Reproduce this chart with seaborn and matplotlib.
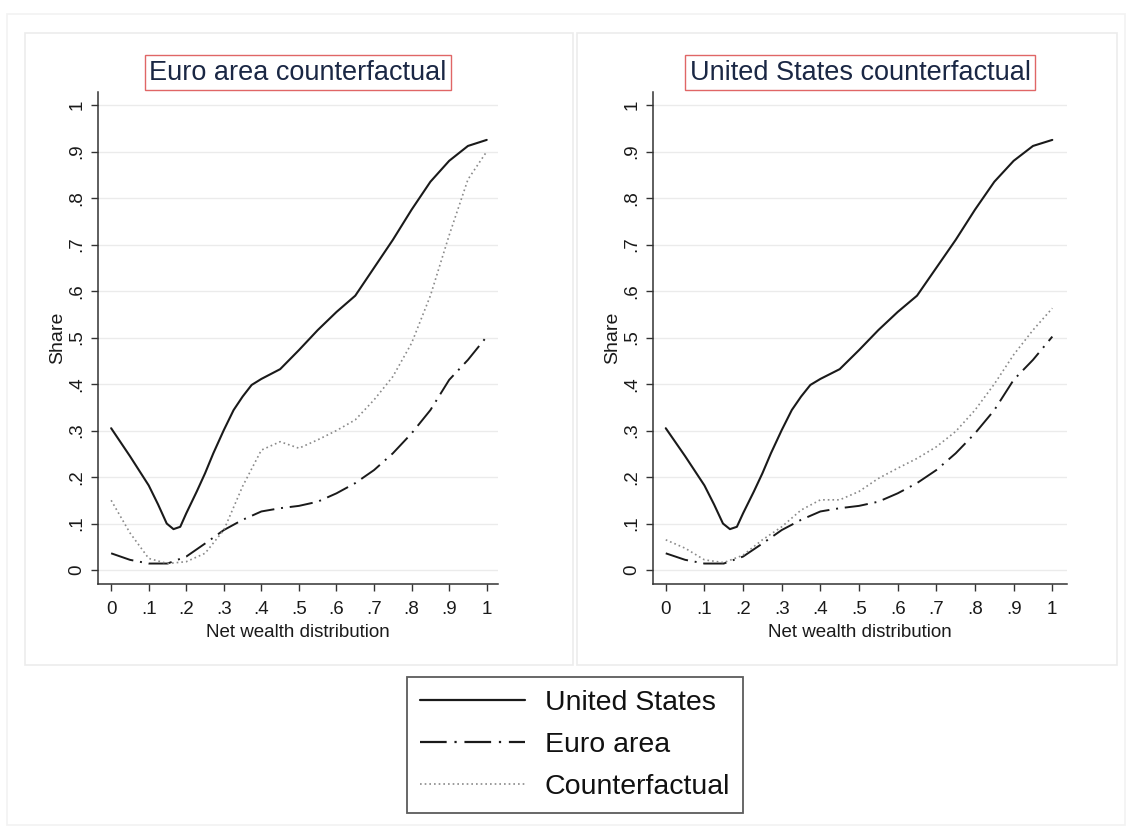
import numpy as np
import pandas as pd
import matplotlib
matplotlib.use("Agg")
import matplotlib.pyplot as plt
import seaborn as sns
from matplotlib.patches import Rectangle
from matplotlib.lines import Line2D

# -------------------------------------------------------------------
# Data
# -------------------------------------------------------------------
us_pos = [0, .05, .1, .125, .148, .166, .184, .2, .228, .25, .272, .3,
          .326, .35, .374, .4, .45, .5, .55, .6, .65, .7, .75, .8,
          .85, .9, .95, 1]
us_share = [.305, .245, .182, .141, .10, .088, .093, .122, .169, .208, .251,
            .301, .344, .373, .398, .411, .432, .473, .516, .555, .59, .65,
            .71, .775, .835, .88, .912, .925]

wealth_pos = [0, .05, .1, .15, .2, .25, .3, .35, .4, .45, .5,
              .55, .6, .65, .7, .75, .8, .85, .9, .95, 1]
ea_share = [.036, .022, .014, .014, .029, .057, .086, .108, .126, .133, .138,
            .147, .165, .187, .215, .251, .294, .344, .409, .452, .502]
cf_euro = [.15, .08, .025, .014, .018, .036, .086, .18, .258, .276, .262,
           .28, .30, .323, .366, .416, .488, .59, .72, .84, .90]
cf_us = [.065, .047, .022, .016, .032, .065, .093, .129, .151, .151, .169,
         .197, .219, .24, .265, .298, .344, .40, .463, .516, .563]

panel_titles = ["Euro area counterfactual", "United States counterfactual"]
series_names = ["United States", "Euro area", "Counterfactual"]
tick_vals = [0, .1, .2, .3, .4, .5, .6, .7, .8, .9, 1]
tick_labels = ["0", ".1", ".2", ".3", ".4", ".5", ".6", ".7", ".8", ".9", "1"]

# -------------------------------------------------------------------
# Style
# -------------------------------------------------------------------
sns.set_style("white")
plt.rcParams['font.family'] = ['Liberation Sans', 'DejaVu Sans']

W, H = 1131, 831
fig = plt.figure(figsize=(W / 100, H / 100), dpi=100)


def px_rect(x0, y0, x1, y1, **kw):
    return Rectangle((x0 / W, 1 - y1 / H), (x1 - x0) / W, (y1 - y0) / H,
                     transform=fig.transFigure, **kw)


# faint Stata-like background frames
fig.patches.append(px_rect(7, 14, 1125, 825, facecolor="white",
                           edgecolor="#f2f2f2", lw=1.2, zorder=-3))
fig.patches.append(px_rect(25, 33, 573, 665, facecolor="white",
                           edgecolor="#ececec", lw=1.2, zorder=-2))
fig.patches.append(px_rect(577, 33, 1117, 665, facecolor="white",
                           edgecolor="#ececec", lw=1.2, zorder=-2))

# axes positions in pixels: (left, top, right, bottom)
axes_px = [(98, 92, 498, 584), (653, 92, 1067, 584)]
xlims = [(-0.035, 1.03), (-0.033, 1.038)]
cf_series = [cf_euro, cf_us]

ea_dash = (0, (12, 3.5, 1, 3.5))
cf_dash = (0, (1, 1.8))

for i, (l, t, r, b) in enumerate(axes_px):
    ax = fig.add_axes([l / W, 1 - b / H, (r - l) / W, (b - t) / H])
    df = pd.DataFrame({"x": wealth_pos, "ea": ea_share, "cf": cf_series[i]})
    sns.lineplot(x=us_pos, y=us_share, ax=ax, color="#1a1a1a", lw=1.5)
    sns.lineplot(data=df, x="x", y="ea", ax=ax, color="#1a1a1a", lw=1.4,
                 linestyle=ea_dash)
    sns.lineplot(data=df, x="x", y="cf", ax=ax, color="#8a8a8a", lw=1.2,
                 linestyle=cf_dash)

    ax.set_xlim(*xlims[i])
    ax.set_ylim(-0.03, 1.028)
    ax.set_xticks(tick_vals)
    ax.set_xticklabels(tick_labels)
    ax.set_yticks(tick_vals)
    ax.set_yticklabels(tick_labels, rotation=90, va="center")
    ax.yaxis.grid(True, color="#ebebeb", lw=1)
    ax.xaxis.grid(False)
    for s in ["top", "right"]:
        ax.spines[s].set_visible(False)
    for s in ["left", "bottom"]:
        ax.spines[s].set_color("#333333")
        ax.spines[s].set_linewidth(1.1)
    ax.tick_params(axis="both", length=5, width=1, color="#333333",
                   labelsize=13.5, labelcolor="#1a1a1a", left=True, bottom=True)
    ax.tick_params(axis="y", pad=4)
    ax.tick_params(axis="x", pad=7.5)
    ax.set_xlabel("Net wealth distribution", fontsize=13.5, color="#1a1a1a",
                  labelpad=4)
    ax.set_ylabel("Share", fontsize=14, color="#1a1a1a", labelpad=2)
    ax.text(0.5, 1.039, panel_titles[i], transform=ax.transAxes,
            ha="center", va="center", fontsize=19.5, color="#1a2744",
            bbox=dict(boxstyle="square,pad=0.17", facecolor="white",
                      edgecolor="#e06666", lw=1))

handles = [
    Line2D([], [], color="#1a1a1a", lw=1.6),
    Line2D([], [], color="#1a1a1a", lw=1.6, linestyle=ea_dash),
    Line2D([], [], color="#8a8a8a", lw=1.2, linestyle=cf_dash),
]
leg = fig.legend(handles, series_names, loc="center",
                 bbox_to_anchor=(575 / W, 1 - 745 / H), fontsize=20.5,
                 frameon=True, fancybox=False, handlelength=3.7,
                 handletextpad=0.67, labelspacing=0.57, borderpad=0.45,
                 borderaxespad=0)
leg.get_frame().set_edgecolor("#333333")
leg.get_frame().set_linewidth(1.3)
for txt in leg.get_texts():
    txt.set_color("#111111")

fig.savefig("out.png", dpi=100)
